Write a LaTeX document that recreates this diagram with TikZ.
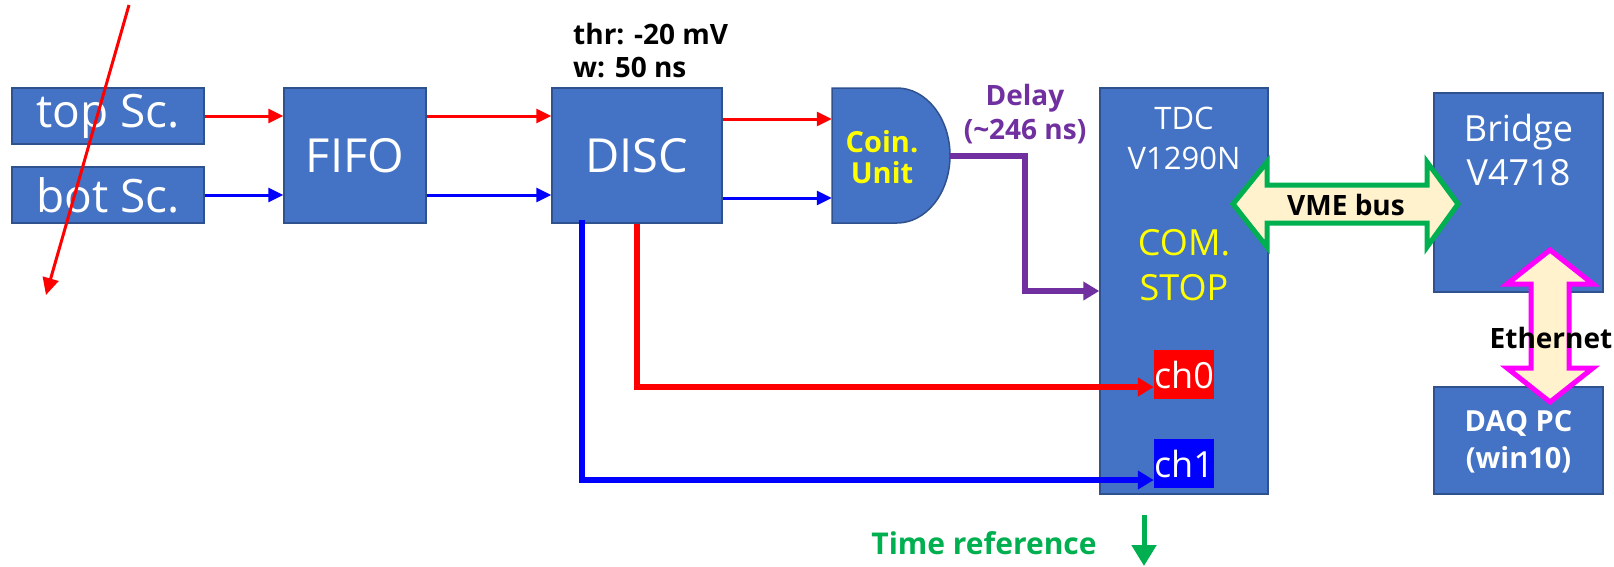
\documentclass[tikz,border=0pt]{standalone}
\usepackage{fontspec}
\setmainfont{Open Sans}
\usetikzlibrary{arrows.meta,calc}
\definecolor{boxblue}{HTML}{4472C4}
\definecolor{boxedge}{HTML}{2F528F}
\definecolor{sigred}{HTML}{FF0000}
\definecolor{sigblue}{HTML}{0000FF}
\definecolor{delaypurple}{HTML}{7030A0}
\definecolor{busgreen}{HTML}{00B050}
\definecolor{ethmag}{HTML}{FF00FF}
\definecolor{cream}{HTML}{FFF2CC}
\definecolor{txtyellow}{HTML}{FFFF00}
\newcommand\myfs[2]{\fontsize{#1}{#2}\selectfont}
\begin{document}
\begin{tikzpicture}[x=1pt,y=-1pt,
  blk/.style={fill=boxblue,draw=boxedge,line width=1.5pt,inner sep=0pt,text=white},
  thinarrow/.style={line width=3pt,-{Triangle[length=15pt,width=14pt]}},
  thickarrow/.style={line width=6pt,-{Triangle[length=16pt,width=18pt]}},
  lbl/.style={inner sep=0pt,align=center},
  chbox/.style={inner sep=0pt,minimum width=60pt,minimum height=49pt,text=white,font=\myfs{36}{40}}]
\useasboundingbox (0,0) rectangle (1614,566);
\fill[white] (0,0) rectangle (1614,566);

% blocks
\node[blk,minimum width=192pt,minimum height=56pt,font=\myfs{46}{50}] (top) at (108,116) {top Sc.};
\node[blk,minimum width=192pt,minimum height=56pt,font=\myfs{46}{50}] (bot) at (108,195) {bot Sc.};
\node[blk,minimum width=142pt,minimum height=135pt,font=\myfs{47}{50}] (fifo) at (355,155.5) {FIFO};
\node[blk,minimum width=170pt,minimum height=135pt,font=\myfs{47}{50}] (disc) at (637,155.5) {DISC};
\node[anchor=north west,lbl,align=left,font=\bfseries\myfs{28}{33}] (thr) at (573,23) {thr: -20 mV\\w: 50 ns};

% coincidence unit
\draw[blk] (832,88) -- (897,88) .. controls (926.27,88) and (950,118.22) .. (950,155.5)
  .. controls (950,192.78) and (926.27,223) .. (897,223) -- (832,223) -- cycle;
\node[inner sep=0pt,minimum width=118pt,minimum height=135pt] (coin) at (891,155.5) {};
\node[lbl,text=txtyellow,font=\bfseries\myfs{29}{31}] (coinlbl) at (882,157.5) {Coin.\\Unit};
\node[lbl,text=delaypurple,font=\bfseries\myfs{28}{34}] (delay) at (1025,114) {Delay\\(\textasciitilde246 ns)};

% TDC
\node[blk,minimum width=168pt,minimum height=406pt] (tdc) at (1184,291) {};
\node[lbl,text=white,font=\myfs{31}{40}] (tdclbl) at (1184,138) {TDC\\V1290N};
\node[lbl,text=txtyellow,font=\myfs{36}{45}] (comlbl) at (1184,265.5) {COM.\\STOP};

% Bridge and DAQ
\node[blk,minimum width=169pt,minimum height=199pt] (bridge) at (1518.5,192.5) {};
\node[lbl,text=white,font=\myfs{36}{44}] (bridgelbl) at (1518.5,150) {Bridge\\V4718};
\node[blk,minimum width=169pt,minimum height=107pt] (daq) at (1518.5,440.5) {};
\node[lbl,text=white,font=\bfseries\myfs{29}{37}] (daqlbl) at (1518.5,441.5) {DAQ PC\\(win10)};

% signal arrows
\draw[thinarrow,sigred] (top.east) -- (top.east -| fifo.west);
\draw[thinarrow,sigblue] (bot.east) -- (bot.east -| fifo.west);
\draw[thinarrow,sigred] (fifo.east |- top.east) -- (disc.west |- top.east);
\draw[thinarrow,sigblue] (fifo.east |- bot.east) -- (disc.west |- bot.east);
\draw[thinarrow,sigred] ([yshift=36.5pt]disc.east) -- ([yshift=36.5pt]coin.west);
\draw[thinarrow,sigblue] ([yshift=-42.5pt]disc.east) -- ([yshift=-42.5pt]coin.west);
\draw[thickarrow,delaypurple] (coin.east) -- ++(75,0) |- (tdc.west);

% channel boxes
\node[chbox,fill=sigred] (ch0) at (1184,374.5) {ch0};
\node[chbox,fill=sigblue] (ch1) at (1184,463.5) {ch1};
\draw[thickarrow,sigred] (disc.south) |- ([yshift=-12.5pt]ch0.west);
\draw[thickarrow,sigblue] ([xshift=-55pt,yshift=4pt]disc.south) |- ([yshift=-16.5pt]ch1.west);

% VME bus
\draw[busgreen,line width=5pt,fill=cream,line join=miter]
  (1233,204) -- (1267,162) -- (1267,185) -- (1427,185) -- (1427,162) -- (1458,204)
  -- (1427,247) -- (1427,223) -- (1267,223) -- (1267,247) -- cycle;
\node[lbl,font=\bfseries\myfs{28}{32}] (vmelbl) at (1346,205) {VME bus};

% Ethernet
\draw[ethmag,line width=5pt,fill=cream,line join=miter]
  (1550,250) -- (1593,284) -- (1569,284) -- (1569,368) -- (1593,368) -- (1550,402)
  -- (1507,368) -- (1531,368) -- (1531,284) -- (1507,284) -- cycle;
\node[lbl,font=\bfseries\myfs{28}{32}] (ethlbl) at (1551,338) {Ethernet};

% time reference
\node[lbl,text=busgreen,font=\bfseries\myfs{30}{34}] (timelbl) at (984,543) {Time reference};
\coordinate (tr1) at (1144,515);
\coordinate (tr2) at (1144,566);
\draw[busgreen,line width=5pt,-{Triangle[length=21pt,width=24pt]}] (tr1) -- (tr2);

% crossing line
\coordinate (d1) at (129,5);
\coordinate (d2) at (46,295);
\draw[sigred,line width=3pt,-{Triangle[length=17pt,width=16pt]}] (d1) -- (d2);
\end{tikzpicture}
\end{document}
